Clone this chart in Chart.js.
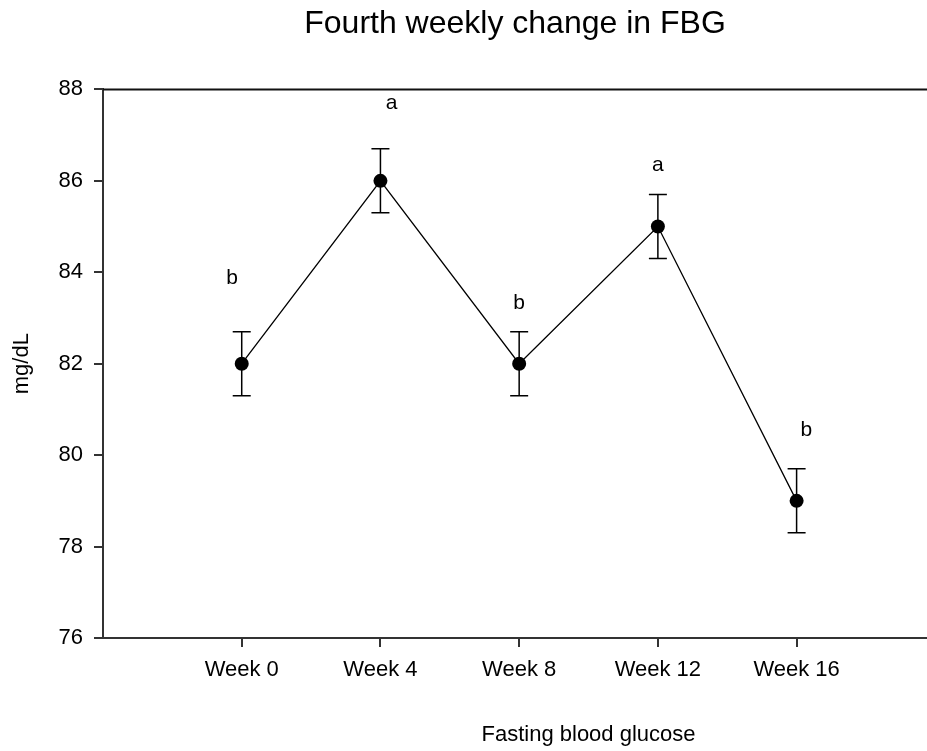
<!DOCTYPE html>
<html>
<head>
<meta charset="utf-8">
<title>Fourth weekly change in FBG</title>
<script src="https://cdn.jsdelivr.net/npm/chart.js@4/dist/chart.umd.min.js"></script>
<style>
  html, body { margin: 0; padding: 0; background: #fff; overflow: hidden; }
  canvas { display: block; }
</style>
</head>
<body>
<canvas id="fbgChart" width="927" height="751"></canvas>
<script>
// Fasting blood glucose, mean +/- error per week
const weeks = ['Week 0', 'Week 4', 'Week 8', 'Week 12', 'Week 16'];
const fbgMean = [82, 86, 82, 85, 79];
const fbgErr = [0.7, 0.7, 0.7, 0.7, 0.7];
// significance letters and where they sit (value units)
const sigLetters = ['b', 'a', 'b', 'a', 'b'];
const letterY = [83.87, 87.7, 83.33, 86.35, 80.55];
const letterShift = [-0.07, 0.08, 0, 0, 0.07];
const yTicks = [76, 78, 80, 82, 84, 86, 88];
const xTitle = 'Fasting blood glucose';

Chart.defaults.font.family = "'Liberation Sans', Arial, sans-serif";
Chart.defaults.color = '#000';

// error bars under the points
const errorBars = {
  id: 'errorBars',
  beforeDatasetsDraw(chart) {
    const { ctx, scales: { x, y } } = chart;
    ctx.save();
    ctx.strokeStyle = '#000';
    ctx.lineWidth = 1.5;
    fbgMean.forEach((m, i) => {
      const px = x.getPixelForValue(i);
      const top = y.getPixelForValue(m + fbgErr[i]);
      const bot = y.getPixelForValue(m - fbgErr[i]);
      ctx.beginPath();
      ctx.moveTo(px, top); ctx.lineTo(px, bot);
      ctx.moveTo(px - 9, top); ctx.lineTo(px + 9, top);
      ctx.moveTo(px - 9, bot); ctx.lineTo(px + 9, bot);
      ctx.stroke();
    });
    ctx.restore();
  }
};

// letters, top frame line, x axis title
const extras = {
  id: 'extras',
  afterDraw(chart) {
    const { ctx, chartArea, scales: { x, y } } = chart;
    ctx.save();
    ctx.strokeStyle = '#111';
    ctx.lineWidth = 2;
    ctx.beginPath();
    ctx.moveTo(chartArea.left, chartArea.top);
    ctx.lineTo(chartArea.right, chartArea.top);
    ctx.stroke();

    ctx.fillStyle = '#000';
    ctx.font = "21px 'Liberation Sans', Arial, sans-serif";
    ctx.textAlign = 'center';
    ctx.textBaseline = 'middle';
    sigLetters.forEach((t, i) => {
      ctx.fillText(t, x.getPixelForValue(i + letterShift[i]), y.getPixelForValue(letterY[i]));
    });

    // axis title sits a bit right of the axis centre, as in the source plot
    ctx.font = "22px 'Liberation Sans', Arial, sans-serif";
    ctx.textBaseline = 'alphabetic';
    ctx.fillText(xTitle, x.getPixelForValue(2.5), chart.height - 10);
    ctx.restore();
  }
};

new Chart(document.getElementById('fbgChart'), {
  type: 'line',
  data: {
    datasets: [{
      data: fbgMean.map((v, i) => ({ x: i, y: v })),
      borderColor: '#000',
      borderWidth: 1.3,
      tension: 0,
      pointRadius: 7,
      pointBackgroundColor: '#000',
      pointBorderColor: '#000',
      pointBorderWidth: 0
    }]
  },
  options: {
    responsive: false,
    animation: false,
    layout: { padding: 0, autoPadding: false },
    plugins: {
      legend: { display: false },
      tooltip: { enabled: false },
      title: {
        display: true,
        fullSize: false,
        text: 'Fourth weekly change in FBG',
        color: '#000',
        font: { size: 32, weight: 'normal' },
        padding: { top: 5, bottom: 46 }
      }
    },
    scales: {
      x: {
        type: 'linear',
        min: -1,
        max: 4.94,
        afterBuildTicks: s => { s.ticks = weeks.map((w, i) => ({ value: i })); },
        ticks: {
          callback: v => weeks[v],
          font: { size: 22 },
          color: '#000',
          padding: 10,
          maxRotation: 0,
          autoSkip: false
        },
        grid: { display: true, drawOnChartArea: false, drawTicks: true, tickLength: 9, color: '#333', lineWidth: 2 },
        border: { display: true, color: '#333', width: 2 },
        afterFit: s => { s.height = 113; s.paddingLeft = 0; s.paddingRight = 0; }
      },
      y: {
        min: 76,
        max: 88,
        afterBuildTicks: s => { s.ticks = yTicks.map(v => ({ value: v })); },
        ticks: { font: { size: 22 }, color: '#000', padding: 11 },
        grid: { display: true, drawOnChartArea: false, drawTicks: true, tickLength: 9, color: '#333', lineWidth: 2 },
        border: { display: true, color: '#333', width: 2 },
        title: {
          display: true,
          text: 'mg/dL',
          color: '#000',
          font: { size: 22 },
          padding: { top: 9, bottom: 0 }
        },
        afterFit: s => { s.width = 103; s.paddingTop = 0; s.paddingBottom = 0; }
      }
    }
  },
  plugins: [errorBars, extras]
});
</script>
</body>
</html>
